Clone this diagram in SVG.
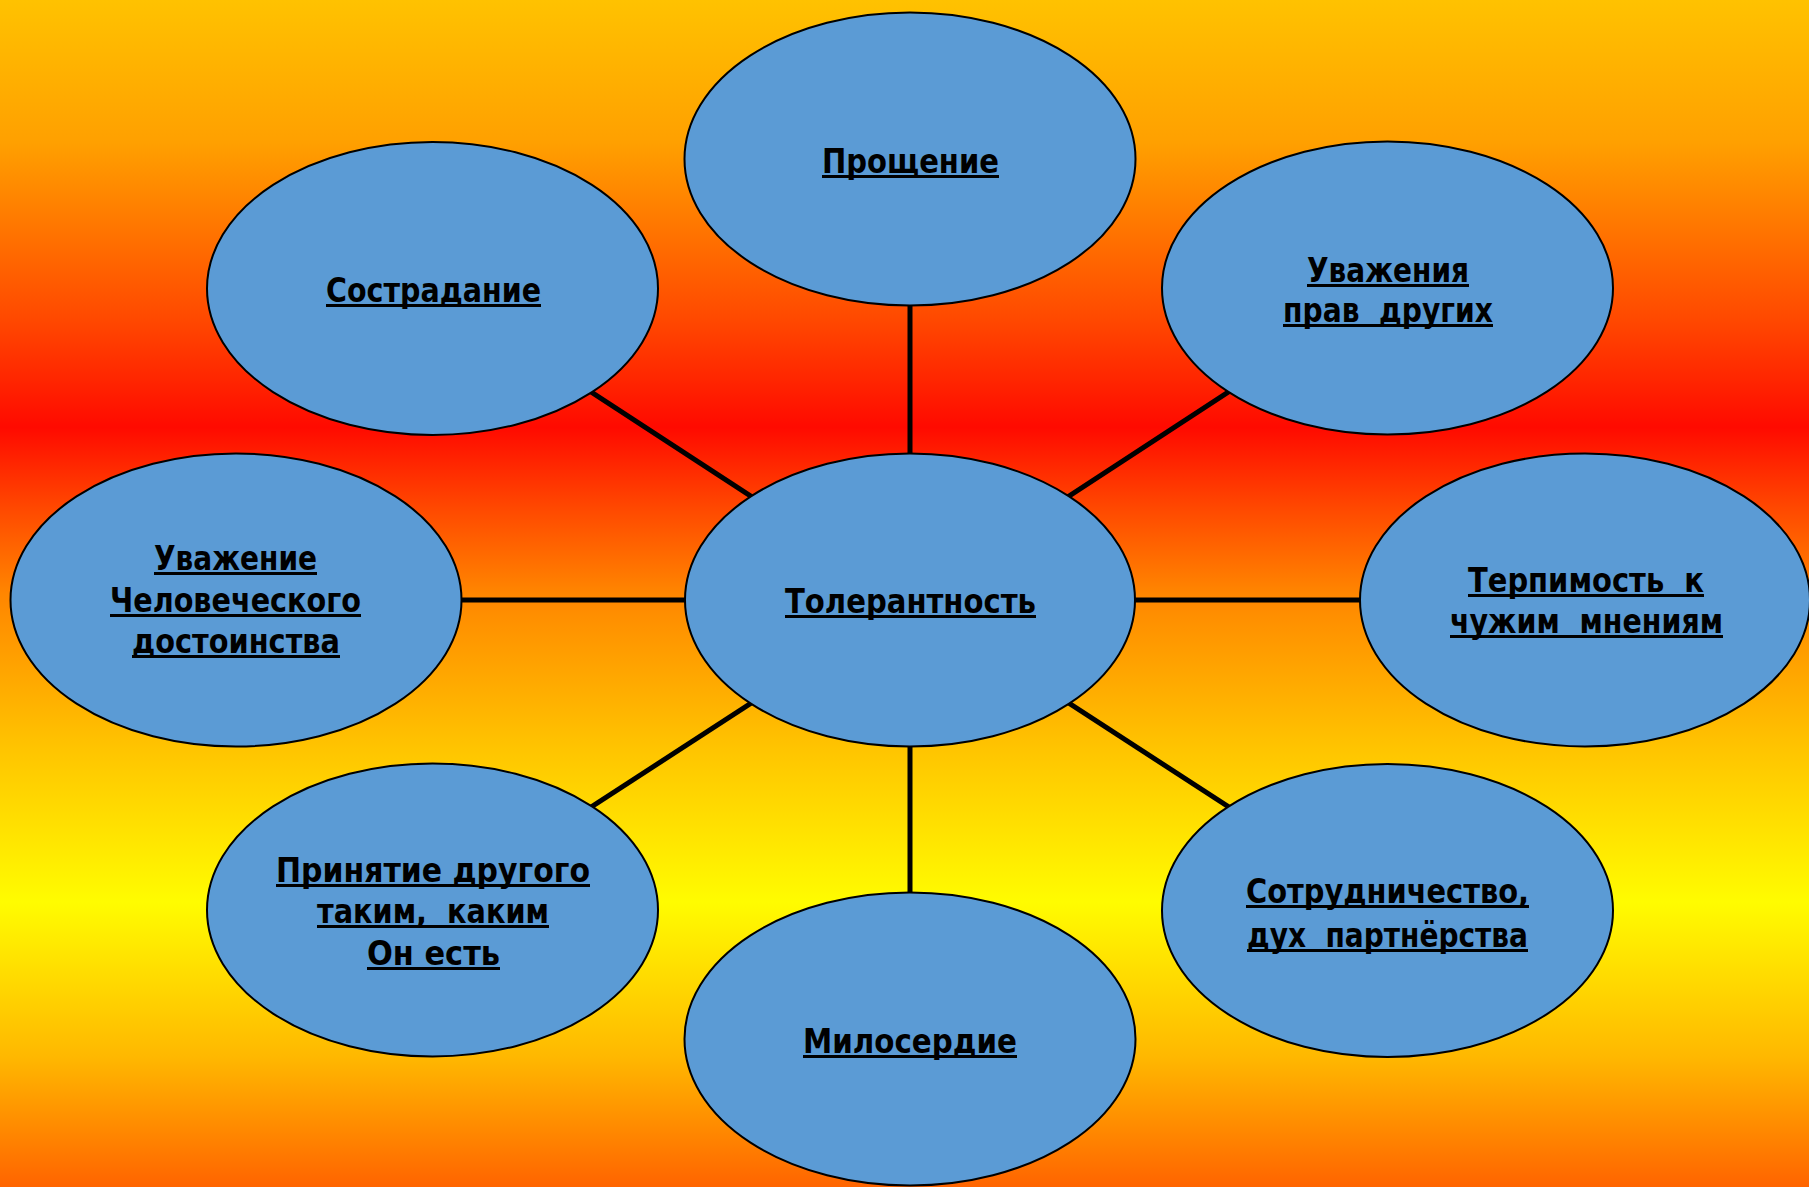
<svg xmlns="http://www.w3.org/2000/svg" width="1809" height="1187" viewBox="0 0 1809 1187">
<defs>
<linearGradient id="bg" x1="0" y1="0" x2="0" y2="1">
<stop offset="0" stop-color="#FFC200"/>
<stop offset="0.12" stop-color="#FFA000"/>
<stop offset="0.27" stop-color="#FF4800"/>
<stop offset="0.36" stop-color="#FF0A00"/>
<stop offset="0.43" stop-color="#FF4A00"/>
<stop offset="0.5" stop-color="#FF8600"/>
<stop offset="0.63" stop-color="#FFC400"/>
<stop offset="0.76" stop-color="#FFFC00"/>
<stop offset="0.89" stop-color="#FFB800"/>
<stop offset="1" stop-color="#FF6400"/>
</linearGradient>
</defs>
<style>
.node ellipse{fill:#5B9BD5;stroke:#000;stroke-width:2}
.node text{font-family:"DejaVu Sans","Liberation Sans",sans-serif;font-weight:bold;font-size:33px;fill:#000;text-anchor:middle}
.node line{stroke:#000;stroke-width:3}
.conn line{stroke:#000;stroke-width:5}
</style>
<rect x="0" y="0" width="1809" height="1187" fill="url(#bg)"/>
<g id="connectors" class="conn">
<line x1="910" y1="600" x2="910" y2="159"/>
<line x1="910" y1="600" x2="432.5" y2="288.5"/>
<line x1="910" y1="600" x2="1387.5" y2="288"/>
<line x1="910" y1="600" x2="236" y2="600"/>
<line x1="910" y1="600" x2="1585" y2="600"/>
<line x1="910" y1="600" x2="432.5" y2="910"/>
<line x1="910" y1="600" x2="1387.5" y2="910"/>
<line x1="910" y1="600" x2="910" y2="1039"/>
</g>
<g id="node-center" class="node">
<ellipse cx="910" cy="600" rx="225" ry="146.5"/>
<text x="910.5" y="613" textLength="251" lengthAdjust="spacingAndGlyphs">Толерантность</text>
<line x1="785" y1="616.5" x2="1036" y2="616.5"/>
</g>
<g id="node-top" class="node">
<ellipse cx="910" cy="159" rx="225.5" ry="146.5"/>
<text x="910.5" y="173" textLength="177" lengthAdjust="spacingAndGlyphs">Прощение</text>
<line x1="822" y1="176.5" x2="999" y2="176.5"/>
</g>
<g id="node-top-left" class="node">
<ellipse cx="432.5" cy="288.5" rx="225.5" ry="146.5"/>
<text x="433.5" y="302" textLength="215" lengthAdjust="spacingAndGlyphs">Сострадание</text>
<line x1="326" y1="305.5" x2="541" y2="305.5"/>
</g>
<g id="node-top-right" class="node">
<ellipse cx="1387.5" cy="288" rx="225.5" ry="146.5"/>
<text x="1388" y="282" textLength="162" lengthAdjust="spacingAndGlyphs">Уважения</text>
<line x1="1307" y1="285.5" x2="1469" y2="285.5"/>
<text x="1388" y="322" textLength="210" lengthAdjust="spacingAndGlyphs" xml:space="preserve">прав  других</text>
<line x1="1283" y1="325.5" x2="1493" y2="325.5"/>
</g>
<g id="node-left" class="node">
<ellipse cx="236" cy="600" rx="225.5" ry="146.5"/>
<text x="235.5" y="570" textLength="163" lengthAdjust="spacingAndGlyphs">Уважение</text>
<line x1="154" y1="573.5" x2="317" y2="573.5"/>
<text x="235.5" y="612" textLength="251" lengthAdjust="spacingAndGlyphs">Человеческого</text>
<line x1="110" y1="615.5" x2="361" y2="615.5"/>
<text x="236" y="653" textLength="208" lengthAdjust="spacingAndGlyphs">достоинства</text>
<line x1="132" y1="656.5" x2="340" y2="656.5"/>
</g>
<g id="node-right" class="node">
<ellipse cx="1585" cy="600" rx="225" ry="146.5"/>
<text x="1586" y="592" textLength="236" lengthAdjust="spacingAndGlyphs" xml:space="preserve">Терпимость  к</text>
<line x1="1468" y1="595.5" x2="1704" y2="595.5"/>
<text x="1586.5" y="633" textLength="273" lengthAdjust="spacingAndGlyphs" xml:space="preserve">чужим  мнениям</text>
<line x1="1450" y1="636.5" x2="1723" y2="636.5"/>
</g>
<g id="node-bottom-left" class="node">
<ellipse cx="432.5" cy="910" rx="225.5" ry="146.5"/>
<text x="433" y="882" textLength="314" lengthAdjust="spacingAndGlyphs">Принятие другого</text>
<line x1="276" y1="885.5" x2="590" y2="885.5"/>
<text x="433" y="923" textLength="232" lengthAdjust="spacingAndGlyphs" xml:space="preserve">таким,  каким</text>
<line x1="317" y1="926.5" x2="549" y2="926.5"/>
<text x="433.5" y="965" textLength="133" lengthAdjust="spacingAndGlyphs">Он есть</text>
<line x1="367" y1="968.5" x2="500" y2="968.5"/>
</g>
<g id="node-bottom-right" class="node">
<ellipse cx="1387.5" cy="910.5" rx="225.5" ry="146.5"/>
<text x="1387.5" y="903" textLength="283" lengthAdjust="spacingAndGlyphs">Сотрудничество,</text>
<line x1="1246" y1="906.5" x2="1529" y2="906.5"/>
<text x="1387.5" y="947" textLength="281" lengthAdjust="spacingAndGlyphs" xml:space="preserve">дух  партнёрства</text>
<line x1="1247" y1="950.5" x2="1528" y2="950.5"/>
</g>
<g id="node-bottom" class="node">
<ellipse cx="910" cy="1039" rx="225.5" ry="146.5"/>
<text x="910" y="1053" textLength="214" lengthAdjust="spacingAndGlyphs">Милосердие</text>
<line x1="803" y1="1056.5" x2="1017" y2="1056.5"/>
</g>
</svg>
